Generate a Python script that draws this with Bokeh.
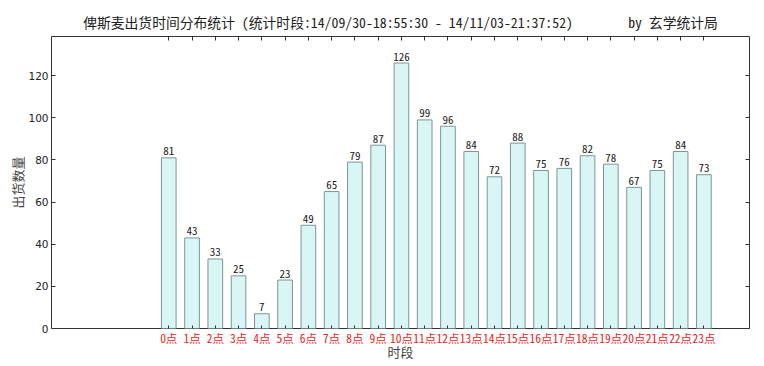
from bokeh.plotting import figure
from bokeh.models import Range1d, FixedTicker, LinearAxis, ColumnDataSource
from bokeh.core.properties import value
from bokeh.embed import file_html
from bokeh.resources import INLINE

hours = list(range(24))
counts = [81, 43, 33, 25, 7, 23, 49, 65, 79, 87, 126, 99, 96, 84, 72, 88, 75, 76, 82, 78, 67, 75, 84, 73]
hour_labels = [f"{h}点" for h in hours]
y_ticks = [0, 20, 40, 60, 80, 100, 120]
title_text = "俾斯麦出货时间分布统计 (统计时段:14/09/30-18:55:30 - 14/11/03-21:37:52)        by 玄学统计局".replace(" ", "\u00a0")
x_label = "时段"
y_label = "出货数量"

CJK = "Noto Sans Mono CJK SC, Noto Sans CJK SC"

src = ColumnDataSource(dict(x=hours, y=counts, t=[str(c) for c in counts]))

p = figure(frame_width=698, frame_height=292, output_backend="svg", toolbar_location=None,
           x_range=Range1d(-5.04, 24.96), y_range=Range1d(0, 138.6),
           min_border_left=51, min_border_right=8, min_border_top=36, min_border_bottom=28,
           background_fill_color="white", border_fill_color="white")

p.title.text = title_text
p.title.align = "center"
p.title.text_font = CJK
p.title.text_font_size = "13.8px"
p.title.text_font_style = "normal"
p.title.text_color = "#222222"

p.vbar(x="x", top="y", width=0.63, source=src, fill_color="#d8f6f6",
       line_color="#7f9595", line_width=1)
p.text(x="x", y="y", text="t", source=src, text_align="center", text_baseline="alphabetic",
       y_offset=-7, text_font=value(CJK), text_font_size="11px", text_color="#222222")

p.xgrid.visible = False
p.ygrid.visible = False
p.outline_line_color = "#333333"
p.outline_line_width = 1

xa = p.xaxis[0]
xa.ticker = FixedTicker(ticks=hours)
xa.major_label_overrides = {h: l for h, l in zip(hours, hour_labels)}
xa.major_label_text_color = "#ee2222"
xa.major_label_text_font = CJK
xa.major_label_text_font_size = "11.5px"
xa.major_tick_in = 3
xa.major_tick_out = 0
xa.minor_tick_line_color = None
xa.axis_line_color = None
xa.major_tick_line_color = "#333333"
xa.major_label_standoff = 1
xa.axis_label = x_label
xa.axis_label_text_font = CJK
xa.axis_label_text_font_size = "13px"
xa.axis_label_text_font_style = "normal"
xa.axis_label_standoff = -7

ya = p.yaxis[0]
ya.ticker = FixedTicker(ticks=y_ticks)
ya.major_label_text_font = "DejaVu Sans"
ya.major_label_text_font_size = "10.5px"
ya.major_label_text_color = "#222222"
ya.major_tick_in = 4
ya.major_tick_out = 0
ya.minor_tick_line_color = None
ya.axis_line_color = None
ya.major_tick_line_color = "#333333"
ya.major_label_standoff = 3
ya.axis_label = y_label
ya.axis_label_text_font = CJK
ya.axis_label_text_font_size = "13px"
ya.axis_label_text_font_style = "normal"
ya.axis_label_standoff = -2

ra = LinearAxis(ticker=FixedTicker(ticks=y_ticks), major_label_text_font_size="0px",
                major_tick_in=4, major_tick_out=0, minor_tick_line_color=None,
                axis_line_color=None, major_tick_line_color="#333333", major_label_standoff=0)
p.add_layout(ra, "right")
ta = LinearAxis(ticker=FixedTicker(ticks=hours), major_label_text_font_size="0px",
                major_tick_in=4, major_tick_out=0, minor_tick_line_color=None,
                axis_line_color=None, major_tick_line_color="#333333", major_label_standoff=0)
p.add_layout(ta, "above")

open("out.html", "w").write(file_html(p, INLINE))
